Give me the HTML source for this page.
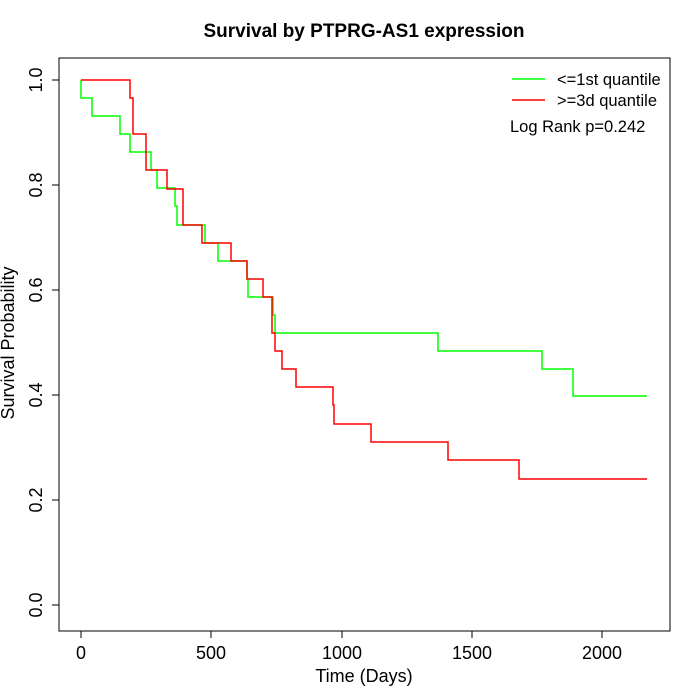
<!DOCTYPE html>
<html><head><style>body{margin:0;background:#fff}svg{display:block}text{font-family:"Liberation Sans",sans-serif}</style></head>
<body>
<svg width="700" height="700" xmlns="http://www.w3.org/2000/svg">
<text x="364" y="37" font-size="19" font-weight="bold" text-anchor="middle">Survival by PTPRG-AS1 expression</text>
<rect x="59" y="58" width="611" height="573" fill="none" stroke="#000" stroke-width="1"/>
<g stroke="#000" stroke-width="1">
<line x1="81" y1="631" x2="602" y2="631"/>
<line x1="81" y1="631" x2="81" y2="638"/><line x1="211" y1="631" x2="211" y2="638"/><line x1="342" y1="631" x2="342" y2="638"/><line x1="472" y1="631" x2="472" y2="638"/><line x1="602" y1="631" x2="602" y2="638"/>
<line x1="59" y1="80" x2="59" y2="605"/>
<line x1="52" y1="80" x2="59" y2="80"/><line x1="52" y1="185" x2="59" y2="185"/><line x1="52" y1="290" x2="59" y2="290"/><line x1="52" y1="395" x2="59" y2="395"/><line x1="52" y1="500" x2="59" y2="500"/><line x1="52" y1="605" x2="59" y2="605"/>
</g>
<g font-size="18" text-anchor="middle">
<text x="81" y="659">0</text><text x="211" y="659">500</text><text x="342" y="659">1000</text><text x="472" y="659">1500</text><text x="602" y="659">2000</text>
<text x="364" y="682">Time (Days)</text>
</g>
<g font-size="18" text-anchor="middle">
<text transform="translate(42,80) rotate(-90)">1.0</text>
<text transform="translate(42,185) rotate(-90)">0.8</text>
<text transform="translate(42,290) rotate(-90)">0.6</text>
<text transform="translate(42,395) rotate(-90)">0.4</text>
<text transform="translate(42,500) rotate(-90)">0.2</text>
<text transform="translate(42,605) rotate(-90)">0.0</text>
<text transform="translate(14,343) rotate(-90)">Survival Probability</text>
</g>
<path fill="none" stroke="#00ff00" stroke-width="1.5" d="M81,80 V98 H92 V116 H120 V134 H130 V152 H151 V170 H157 V188 H175 V206 H177 V225 H205 V243 H218 V261 H247 V279 H248 V297 H273 V315 H275 V333 H438 V351 H542 V369 H573 V396 H647"/>
<path fill="none" stroke="#ff0000" stroke-width="1.5" d="M81,80 H130 V98 H133 V134 H146 V170 H167 V189 H183 V225 H202 V243 H231 V261 H247 V279 H263 V297 H272 V333 H275 V351 H282 V369 H296 V387 H333 V405 H334 V424 H371 V442 H448 V460 H519 V479 H647"/>
<line x1="512" y1="79" x2="545" y2="79" stroke="#00ff00" stroke-width="1.5"/>
<line x1="512" y1="100" x2="545" y2="100" stroke="#ff0000" stroke-width="1.5"/>
<g font-size="16.5">
<text x="557" y="85">&lt;=1st quantile</text>
<text x="557" y="106">&gt;=3d quantile</text>
<text x="510" y="132">Log Rank p=0.242</text>
</g>
</svg>
</body></html>
